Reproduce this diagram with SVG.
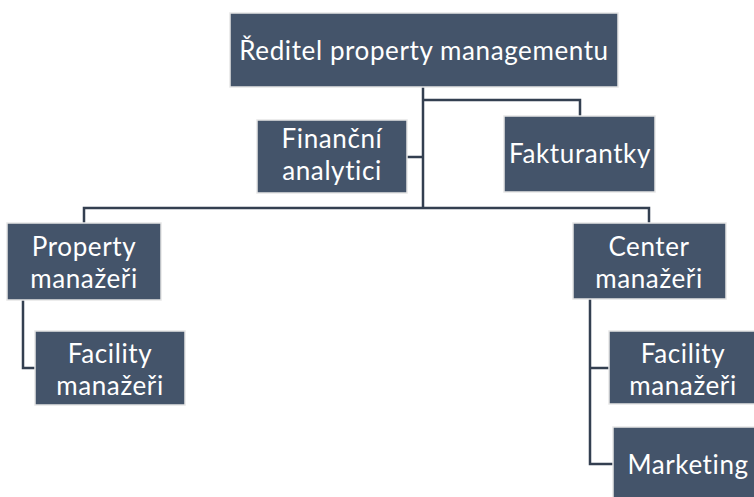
<svg xmlns="http://www.w3.org/2000/svg" width="754" height="497" viewBox="0 0 754 497">
<style>
.box{fill:#44546A;stroke:#E6E6E6;stroke-width:1.5}
.t{font-family:Lato,"Liberation Sans",sans-serif;font-size:26px;letter-spacing:0.6px;fill:#FFFFFF;text-anchor:middle}
.c{fill:none;stroke:#333F50;stroke-width:2.5}
</style>
<rect width="754" height="497" fill="#FFFFFF"/>
<g id="connectors">
<path class="c" d="M423,87 V208"/>
<path class="c" d="M423,100 H580 V116"/>
<path class="c" d="M407,157 H423"/>
<path class="c" d="M84,223 V208 H649 V223"/>
<path class="c" d="M23,300 V368 H35"/>
<path class="c" d="M590,299 V464 H613"/>
<path class="c" d="M590,368 H609"/>
</g>
<g id="reditel">
<rect class="box" x="230" y="13" width="388" height="74"/>
<text class="t" x="424" y="60">Ředitel property managementu</text>
</g>
<g id="financni">
<rect class="box" x="257" y="120" width="150" height="73"/>
<text class="t" x="332" y="148">Finanční</text>
<text class="t" x="332" y="180">analytici</text>
</g>
<g id="fakturantky">
<rect class="box" x="504" y="116" width="151" height="76"/>
<text class="t" x="580" y="163">Fakturantky</text>
</g>
<g id="property">
<rect class="box" x="7" y="223" width="154" height="77"/>
<text class="t" x="84" y="256">Property</text>
<text class="t" x="84" y="288">manažeři</text>
</g>
<g id="center">
<rect class="box" x="573" y="223" width="153" height="76"/>
<text class="t" x="649" y="256">Center</text>
<text class="t" x="649" y="288">manažeři</text>
</g>
<g id="facility-left">
<rect class="box" x="35" y="331" width="150" height="74"/>
<text class="t" x="110" y="363">Facility</text>
<text class="t" x="110" y="395">manažeři</text>
</g>
<g id="facility-right">
<rect class="box" x="609" y="331" width="148" height="73"/>
<text class="t" x="683" y="363">Facility</text>
<text class="t" x="683" y="395">manažeři</text>
</g>
<g id="marketing">
<rect class="box" x="613" y="427" width="150" height="74"/>
<text class="t" x="688" y="474">Marketing</text>
</g>
</svg>
